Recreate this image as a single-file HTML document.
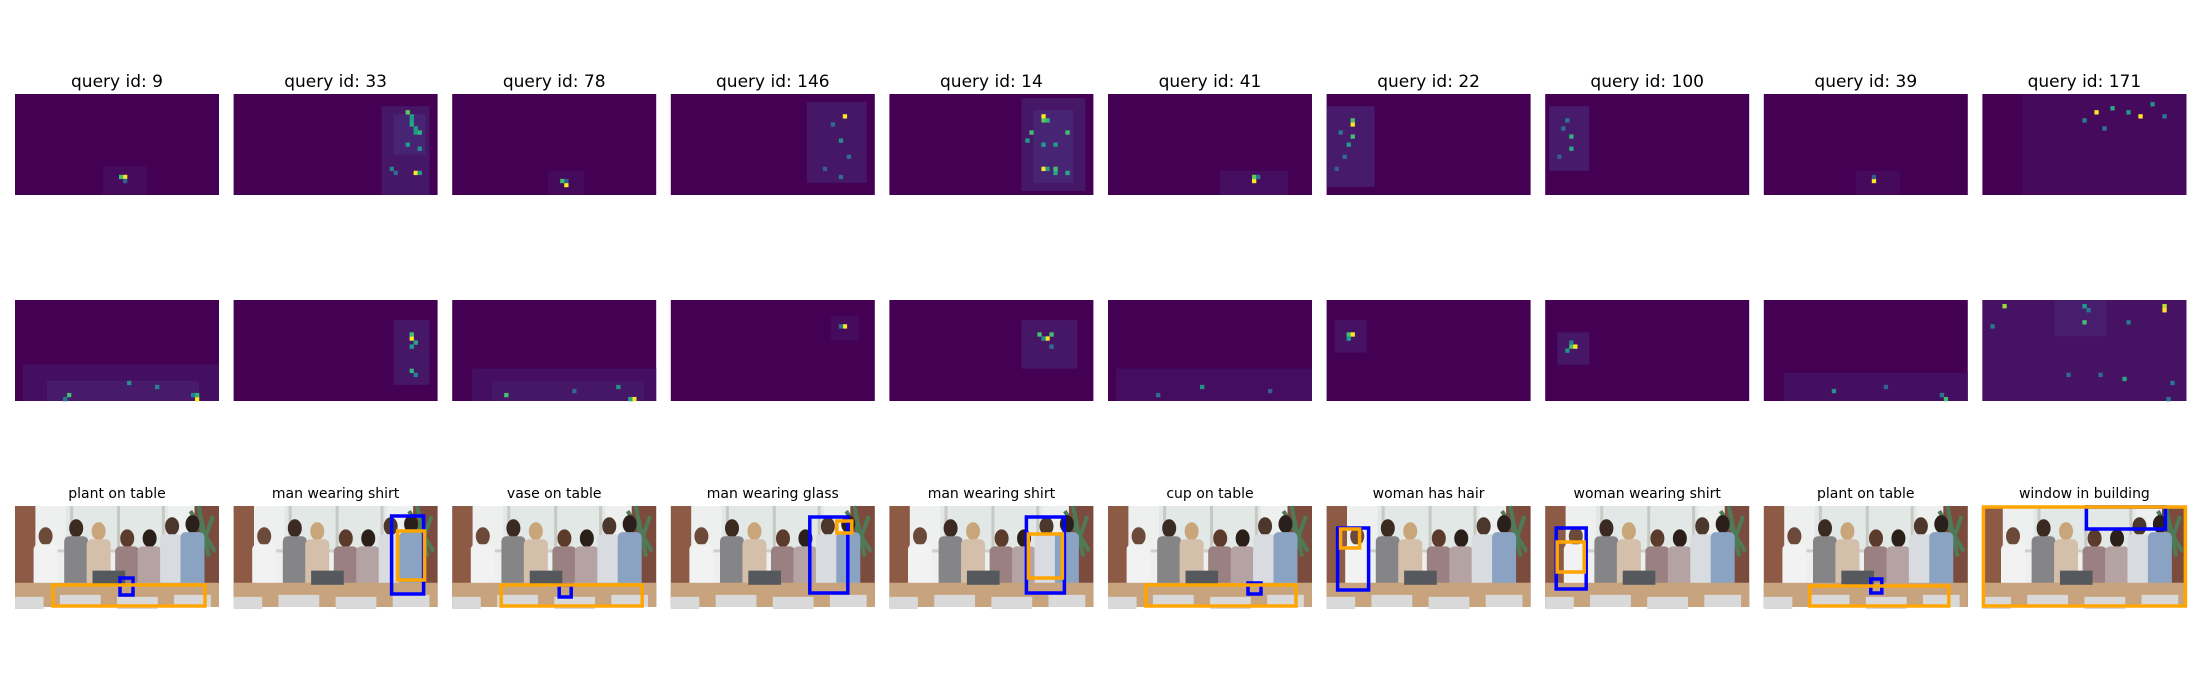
<!DOCTYPE html>
<html><head><meta charset="utf-8"><style>
html,body{margin:0;padding:0;background:#fff;}
svg{display:block;font-family:"DejaVu Sans","Liberation Sans",sans-serif;}
</style></head><body>
<svg id="fig" width="2200" height="700" viewBox="0 0 2200 700" xmlns="http://www.w3.org/2000/svg"></svg>
<script>
// ---- data ----
const queryIds = [9, 33, 78, 146, 14, 41, 22, 100, 39, 171];
const captions = ["plant on table","man wearing shirt","vase on table","man wearing glass","man wearing shirt","cup on table","woman has hair","woman wearing shirt","plant on table","window in building"];
// attention hot spots per panel: [col,row,value] on 51x25 grid (row 1 = subject attention)
const subjSpots = [
 [[27,20,1],[26,20,0.7],[27,21,0.3]],
 [[43,4,0.75],[44,5,0.55],[44,6,0.55],[44,7,0.6],[45,8,0.55],[46,9,0.65],[45,9,0.55],[43,12,0.55],[46,13,0.5],[39,18,0.45],[45,19,1],[46,19,0.55],[40,19,0.35]],
 [[28,22,1],[27,21,0.7],[28,21,0.3]],
 [[43,5,1],[42,11,0.5],[40,7,0.35],[44,15,0.35],[38,18,0.3],[42,20,0.35]],
 [[38,5,1],[38,6,0.75],[39,6,0.65],[35,9,0.7],[44,9,0.7],[34,11,0.55],[38,12,0.55],[41,12,0.55],[38,18,1],[39,18,0.55],[41,18,0.7],[41,19,0.6],[44,19,0.6]],
 [[36,21,1],[36,20,0.75],[37,20,0.4]],
 [[6,7,1],[6,6,0.7],[6,10,0.7],[5,12,0.55],[3,9,0.4],[4,15,0.35],[2,18,0.3]],
 [[6,10,0.65],[6,13,0.6],[5,6,0.4],[4,8,0.35],[3,15,0.3]],
 [[27,21,1],[27,20,0.3]],
 [[28,4,1],[39,5,1],[32,3,0.6],[36,4,0.55],[25,6,0.45],[42,2,0.5],[30,8,0.4],[45,5,0.4]]
];
// faint haze regions: [c0,c1,r0,r1,value]
const subjHaze = [
 [[22,32,18,24,0.03]],
 [[37,48,3,24,0.06],[40,47,5,14,0.1]],
 [[24,32,19,24,0.025]],
 [[34,48,2,21,0.06]],
 [[33,48,1,23,0.06],[36,45,4,21,0.1]],
 [[28,44,19,24,0.035]],
 [[0,11,3,22,0.07]],
 [[1,10,3,18,0.07]],
 [[23,33,19,24,0.025]],
 [[20,50,0,10,0.05],[10,50,0,24,0.025]]
];
const objSpots = [
 [[13,23,0.7],[28,20,0.5],[35,21,0.45],[45,24,1],[45,23,0.65],[44,23,0.45],[12,24,0.4]],
 [[44,9,1],[44,8,0.7],[45,10,0.6],[44,11,0.55],[44,17,0.65],[45,18,0.45]],
 [[13,23,0.7],[41,21,0.5],[45,24,1],[44,24,0.6],[30,22,0.35]],
 [[43,6,1],[42,6,0.35]],
 [[37,8,0.7],[40,8,0.7],[39,9,1],[38,9,0.5],[40,11,0.35]],
 [[23,21,0.5],[12,23,0.35],[40,22,0.3]],
 [[5,8,0.7],[6,8,1],[5,9,0.55]],
 [[6,11,0.7],[7,11,1],[5,12,0.5],[6,10,0.45]],
 [[45,24,0.7],[17,22,0.5],[44,23,0.4],[30,21,0.3]],
 [[5,1,0.85],[25,1,0.55],[45,1,0.9],[45,2,1],[25,5,0.7],[2,6,0.4],[36,5,0.4],[35,19,0.6],[29,18,0.35],[21,18,0.35],[47,20,0.4],[46,24,0.4],[26,2,0.4]]
];
const objHaze = [
 [[2,50,16,24,0.04],[8,45,20,24,0.07]],
 [[40,48,5,20,0.06]],
 [[5,50,17,24,0.04],[10,47,20,24,0.06]],
 [[40,46,4,9,0.03]],
 [[33,46,5,16,0.06]],
 [[2,50,17,24,0.035]],
 [[2,9,5,12,0.05]],
 [[3,10,8,15,0.06]],
 [[5,50,18,24,0.04]],
 [[0,50,0,24,0.05],[18,30,0,8,0.08]]
];
// boxes within 204x101 image: [x,y,w,h]
const subjBoxes = [[105,72,13,17],[158,10,32,78],[107,79,12,12],[139,11,38,76],[137,11,38,76],[140,77,13,11],[11,22,31,62],[11,22,30,61],[107,73,11,14],[104,1,79,22]];
const objBoxes = [[38,79,152,21],[164,25,27,49],[49,79,141,21],[166,15,15,12],[139,28,34,44],[38,79,150,21],[14,23,19,19],[12,36,27,30],[46,80,139,20],[1,1,202,99]];

// ---- layout ----
const NS="http://www.w3.org/2000/svg";
const svg=document.getElementById('fig');
const colX=c=>15+c*218.6;
const rowY=[94,300,506];
const PW=204, PH=101, NC=51, NR=25;
const cw=PW/NC, ch=PH/NR;
function el(tag,attrs,parent){const e=document.createElementNS(NS,tag);for(const k in attrs)e.setAttribute(k,attrs[k]);(parent||svg).appendChild(e);return e;}
const VIR=[[68,1,84],[72,40,120],[62,74,137],[49,104,142],[38,130,142],[31,158,137],[53,183,121],[109,205,89],[180,222,44],[253,231,37]];
function viridis(v){v=Math.max(0,Math.min(1,v));const p=v*(VIR.length-1),i=Math.floor(p),f=p-i;const a=VIR[i],b=VIR[Math.min(i+1,VIR.length-1)];return `rgb(${Math.round(a[0]+(b[0]-a[0])*f)},${Math.round(a[1]+(b[1]-a[1])*f)},${Math.round(a[2]+(b[2]-a[2])*f)})`;}

function heatmap(k,row,spots,haze,name){
  const g=el('g',{transform:`translate(${colX(k)},${rowY[row]})`});
  
  
  el('rect',{x:0,y:0,width:PW,height:PH,fill:viridis(0)},g);
  haze.forEach(h=>{
    const r=el('rect',{x:h[0]*cw,y:h[2]*ch,width:(h[1]-h[0]+1)*cw,height:(h[3]-h[2]+1)*ch,fill:viridis(h[4])},g);
    
    
  });
  spots.forEach(s=>{
    const r=el('rect',{x:s[0]*cw,y:s[1]*ch,width:cw+0.3,height:ch+0.3,fill:viridis(s[2])},g);
    
    
  });
}

function photo(k){
  const x0=colX(k), y0=rowY[2];
  const g=el('g',{transform:`translate(${x0},${y0})`});
  
  
  const W=PW,H=PH;
  el('rect',{x:0,y:0,width:W,height:H,fill:'#eef0ef'},g);
  el('rect',{x:W*0.25,y:0,width:W*0.5,height:H*0.45,fill:'#e2e8e6'},g);
  [0.27,0.5,0.72].forEach(f=>el('rect',{x:W*f,y:0,width:3,height:H*0.7,fill:'#c9c9c4'},g));
  el('rect',{x:W*0.1,y:H*0.43,width:W*0.78,height:3,fill:'#cfcfca'},g);
  el('rect',{x:0,y:0,width:W*0.1,height:H,fill:'#8d5a46'},g);
  el('rect',{x:W*0.88,y:0,width:W*0.12,height:H,fill:'#7b4c3d'},g);
  el('path',{d:`M${W*0.86},${H*0.05} L${W*0.98},${H*0.45} M${W*0.9},${H*0.0} L${W*0.95},${H*0.5} M${W*0.97},${H*0.1} L${W*0.9},${H*0.5}`,stroke:'#4f7a58','stroke-width':4,fill:'none'},g);
  const people=[[0.15,0.3,'#f2f2f2','#6b4a3a'],[0.3,0.22,'#858588','#3a2a22'],[0.41,0.25,'#d4bfab','#c9a67a'],[0.55,0.32,'#9a8080','#5b3b2c'],[0.66,0.32,'#b5a3a3','#2b1f1a'],[0.77,0.2,'#d8dbe0','#4b372c'],[0.87,0.18,'#8ba3c2','#2a1f1a']];
  people.forEach(p=>{
    el('ellipse',{cx:W*p[0],cy:H*p[1],rx:7,ry:9,fill:p[3]},g);
    el('rect',{x:W*p[0]-12,y:H*p[1]+8,width:24,height:H*0.72-(H*p[1]+8)+10,rx:5,fill:p[2]},g);
  });
  el('rect',{x:0,y:H*0.76,width:W,height:H*0.24,fill:'#c8a47e'},g);
  el('rect',{x:W*0.38,y:H*0.64,width:W*0.16,height:H*0.14,fill:'#55585c'},g);
  [[0,0.9,0.14],[0.22,0.88,0.2],[0.5,0.9,0.2],[0.78,0.88,0.18]].forEach(c=>el('rect',{x:W*c[0],y:H*c[1],width:W*c[2],height:H*0.12,fill:'#d9d9d9'},g));
  const bs=[[subjBoxes[k],'#0000ff','subject-box'],[objBoxes[k],'#ffa500','object-box']];
  bs.forEach(b=>{
    const r=el('rect',{x:b[0][0],y:b[0][1],width:b[0][2],height:b[0][3],fill:'none',stroke:b[1],'stroke-width':3.5},g);
    
    
  });
}

for(let k=0;k<10;k++){
  const t=el('text',{x:colX(k)+PW/2,y:87,'text-anchor':'middle','font-size':17,fill:'#000'});
  t.textContent='query id: '+queryIds[k];
  
  
  heatmap(k,0,subjSpots[k],subjHaze[k],'subject-attention-map');
  heatmap(k,1,objSpots[k],objHaze[k],'object-attention-map');
  photo(k);
  const c=el('text',{x:colX(k)+PW/2,y:498,'text-anchor':'middle','font-size':14,fill:'#000'});
  c.textContent=captions[k];
  
  
}
</script>
</body></html>
